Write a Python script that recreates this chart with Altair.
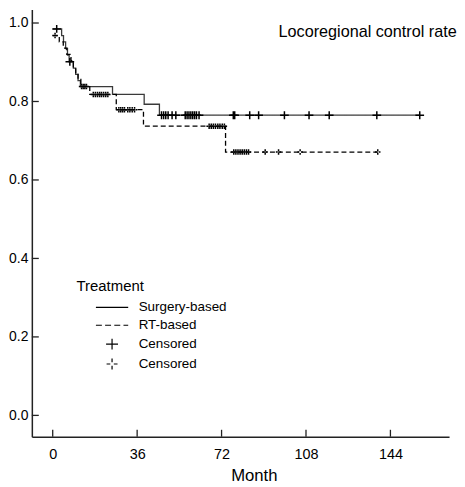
import altair as alt
import pandas as pd

# ---- data ----
surg_t = [0, 3.8, 4.6, 5.5, 6.3, 7.0, 8.8, 9.8, 10.8, 11.8, 25.5, 39.0, 45.5, 156.5]
surg_s = [0.985, 0.968, 0.952, 0.935, 0.918, 0.901, 0.885, 0.869, 0.853, 0.838, 0.818, 0.793, 0.765, 0.765]
rt_t = [0, 2.8, 4.5, 6.0, 7.8, 8.8, 9.8, 10.8, 12.0, 15.8, 27.1, 38.7, 73.7, 138.7]
rt_s = [0.968, 0.952, 0.936, 0.920, 0.904, 0.888, 0.872, 0.856, 0.838, 0.818, 0.779, 0.737, 0.671, 0.671]

surg_cens_t = [1.7, 7.3, 46.4, 47.3, 48.2, 49.2, 50.9, 52.5, 56.5, 57.3, 58.1, 58.9, 59.7, 60.5, 61.3,
               62.4, 77.0, 77.6, 84.0, 87.8, 98.8, 109.3, 117.9, 138.2, 156.5]
surg_cens_s = [0.985, 0.901] + [0.765] * 23
rt_cens_t = [1.0, 12.3, 13.0, 13.7, 14.4, 17.3, 18.2, 19.1, 20.0, 20.8, 21.7, 22.6, 23.5,
             28.2, 29.0, 29.8, 30.6, 32.0, 32.9, 33.9, 34.9,
             66.7, 67.6, 68.5, 69.4, 70.4, 71.3, 72.3, 73.2,
             77.2, 78.1, 79.0, 79.9, 80.8, 81.7, 82.6, 83.5, 90.6, 96.3, 105.5, 138.6]
rt_cens_s = [0.968] + [0.838] * 4 + [0.818] * 8 + [0.779] * 8 + [0.737] * 8 + [0.671] * 12

x_ticks = [0, 36, 72, 108, 144]
y_ticks = [0.0, 0.2, 0.4, 0.6, 0.8, 1.0]

legend_keys = ["Surgery-based", "RT-based", "Censored (surgery)", "Censored (RT)"]
legend_paths = [
    "M-3.25,0H3.25",
    "M-3.25,0H-2.05M-1.4,0H-0.2M0.45,0H1.65M2.3,0H3.25",
    "M-1.2,0H1.2M0,-1.1V1.1",
    "M-1.1,0H-0.35M0.35,0H1.1M0,-1.1V-0.35M0,0.35V1.1",
]

ann_text = ["Locoregional control rate"]
ann_t = [96.3]
ann_s = [0.977]

# ---- tables ----
lines = pd.DataFrame({
    "t": surg_t + rt_t,
    "s": surg_s + rt_s,
    "group": ["Surgery-based"] * len(surg_t) + ["RT-based"] * len(rt_t),
})
cens_s = pd.DataFrame({"t": surg_cens_t, "s": surg_cens_s, "key": "Censored (surgery)"})
cens_r = pd.DataFrame({"t": rt_cens_t, "s": rt_cens_s, "key": "Censored (RT)"})
xt_df = pd.DataFrame({"t": x_ticks})
yt_df = pd.DataFrame({"s": y_ticks})
ann_df = pd.DataFrame({"t": ann_t, "s": ann_s, "label": ann_text})

W, H = 420, 430
SANS = "Liberation Sans, Arial, Helvetica"
x_scale = alt.Scale(domain=[-8.9, 169.0], nice=False, zero=False)
y_scale = alt.Scale(domain=[-0.0544, 1.0342], nice=False, zero=False)

x_axis = alt.Axis(
    values=x_ticks, ticks=False, tickSize=0, grid=False,
    domainColor="#222", domainWidth=1.5,
    labelFont=SANS, labelFontSize=14.5, labelPadding=11, labelColor="black",
    title="Month", titleFont=SANS, titleFontSize=16.8, titleFontWeight="normal",
    titleColor="black", titleX=223.5, titleY=44.5, titleBaseline="alphabetic",
    titleAlign="center")
y_axis = alt.Axis(
    values=y_ticks, format=".1f", ticks=False, tickSize=0, grid=False,
    domainColor="#222", domainWidth=1.5,
    labelFont=SANS, labelFontSize=14, labelPadding=4, labelColor="black",
    title="", minExtent=23.5, maxExtent=23.5)

X = alt.X("t:Q", scale=x_scale, axis=x_axis)
Y = alt.Y("s:Q", scale=y_scale, axis=y_axis)

shape_scale = alt.Scale(domain=legend_keys, range=legend_paths)
legend = alt.Legend(
    title="Treatment", orient="none", legendX=45, legendY=271,
    symbolSize=100, symbolStrokeWidth=1.2, symbolStrokeColor="black",
    symbolFillColor="transparent", symbolOffset=29, labelOffset=20,
    rowPadding=3, labelFont=SANS, labelFontSize=13.5, labelColor="black",
    titleFont=SANS, titleFontSize=15, titleFontWeight="normal", titleColor="black",
    titlePadding=7, padding=0,
    labelExpr="split(datum.label, ' (')[0]",
)

curve = alt.Chart(lines).mark_line(interpolate="step-after", strokeWidth=1.3).encode(
    x=X, y=Y,
    color=alt.Color("group:N", scale=alt.Scale(domain=["Surgery-based", "RT-based"],
                                               range=["#3a3a3a", "#000000"]), legend=None),
    strokeDash=alt.StrokeDash("group:N", scale=alt.Scale(domain=["Surgery-based", "RT-based"],
                                                         range=[[1, 0], [5, 3]]), legend=None),
)

pts_s = alt.Chart(cens_s).mark_point(filled=False, color="black", strokeWidth=1.5, size=53, opacity=1).encode(
    x=X, y=Y, shape=alt.Shape("key:N", scale=shape_scale, legend=legend))
pts_r = alt.Chart(cens_r).mark_point(filled=False, color="black", strokeWidth=1.5, size=25, opacity=1).encode(
    x=X, y=Y, shape=alt.Shape("key:N", scale=shape_scale, legend=legend))

xt = alt.Chart(xt_df).mark_rule(color="#222", strokeWidth=1.3).encode(
    x=X, y=alt.value(H), y2=alt.value(H - 7))
yt = alt.Chart(yt_df).mark_rule(color="#222", strokeWidth=1.3).encode(
    y=Y, x=alt.value(0), x2=alt.value(7))

ann = alt.Chart(ann_df).mark_text(
    align="left", baseline="middle", font=SANS, fontSize=16.3, color="black").encode(
    x=X, y=Y, text="label:N")

chart = alt.layer(curve, pts_s, pts_r, xt, yt, ann).properties(
    width=W, height=H, padding=0, background="white"
).configure_view(stroke=None)

chart.save("out.html", embed_options={"renderer": "svg", "actions": False})
